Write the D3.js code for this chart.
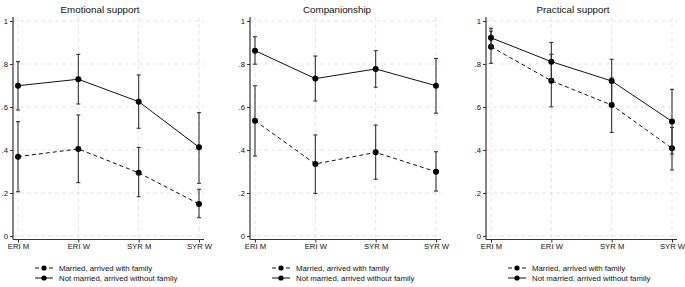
<!DOCTYPE html>
<html>
<head>
<meta charset="utf-8">
<script src="https://cdn.jsdelivr.net/npm/d3@7"></script>
<style>
  body { margin: 0; background: #fff; }
  svg { font-family: "Liberation Sans", Arial, sans-serif; }
</style>
</head>
<body>
<div id="chart"></div>
<script>
const width = 685;
const height = 287;

const categories = ["ERI M", "ERI W", "SYR M", "SYR W"];
const titles = ["Emotional support", "Companionship", "Practical support"];
const seriesNames = ["Married, arrived with family", "Not married, arrived without family"];
const yTicks = [0, 0.2, 0.4, 0.6, 0.8, 1];

// married, arrived with family (dashed)
const marriedMean = [
  [0.369, 0.405, 0.294, 0.149],
  [0.536, 0.335, 0.389, 0.299],
  [0.880, 0.722, 0.609, 0.408]
];
const marriedLow = [
  [0.206, 0.248, 0.183, 0.085],
  [0.372, 0.198, 0.264, 0.209],
  [0.803, 0.601, 0.482, 0.307]
];
const marriedHigh = [
  [0.532, 0.563, 0.412, 0.217],
  [0.699, 0.470, 0.516, 0.392],
  [0.953, 0.845, 0.735, 0.505]
];

// not married, arrived without family (solid)
const singleMean = [
  [0.699, 0.729, 0.625, 0.413],
  [0.862, 0.732, 0.777, 0.699],
  [0.922, 0.811, 0.721, 0.533]
];
const singleLow = [
  [0.586, 0.614, 0.501, 0.245],
  [0.799, 0.628, 0.692, 0.571],
  [0.880, 0.725, 0.620, 0.381]
];
const singleHigh = [
  [0.811, 0.845, 0.749, 0.574],
  [0.927, 0.837, 0.862, 0.826],
  [0.966, 0.900, 0.822, 0.682]
];

const svg = d3.select("#chart")
  .append("svg")
  .attr("width", width)
  .attr("height", height);

const panelX = [0, 237, 473];
const plotTop = 17, plotBottom = 239.5;

const y = d3.scaleLinear().domain([0, 1]).range([236, 21]);

titles.forEach((title, p) => {
  const g = svg.append("g").attr("transform", `translate(${panelX[p]},0)`);
  const axisX = 13, right = 204;

  const x = d3.scalePoint()
    .domain(categories)
    .range([18, 199]);

  // grid
  g.append("g").selectAll("line")
    .data(yTicks)
    .join("line")
    .attr("x1", axisX).attr("x2", right)
    .attr("y1", d => y(d)).attr("y2", d => y(d))
    .attr("stroke", "#dcdcdc")
    .attr("stroke-dasharray", "4,3")
    .attr("stroke-width", 0.8);

  g.append("g").selectAll("line")
    .data(categories)
    .join("line")
    .attr("x1", d => x(d)).attr("x2", d => x(d))
    .attr("y1", plotTop).attr("y2", plotBottom)
    .attr("stroke", "#dcdcdc")
    .attr("stroke-dasharray", "4,3")
    .attr("stroke-width", 0.8);

  // axes
  const yAxis = g.append("g")
    .attr("transform", `translate(${axisX},0)`)
    .call(d3.axisLeft(y).tickValues(yTicks).tickSize(3).tickPadding(2)
      .tickFormat(d => d === 0 ? "0" : d === 1 ? "1" : d3.format(".1f")(d).replace(/^0/, "")));
  yAxis.select(".domain").attr("d", `M0,${plotTop}V${plotBottom}`);

  const xAxis = g.append("g")
    .attr("transform", `translate(0,${plotBottom})`)
    .call(d3.axisBottom(x).tickSize(3).tickPadding(1));
  xAxis.select(".domain").attr("d", `M${axisX},0H${right}`);

  g.selectAll(".domain").attr("stroke", "#333").attr("stroke-width", 1.2);
  g.selectAll(".tick line").attr("stroke", "#333");
  g.selectAll(".tick text").attr("fill", "#111").style("font-size", "7.7px").style("font-family", "Liberation Sans, Arial, sans-serif");

  // title
  g.append("text")
    .attr("x", 100)
    .attr("y", 13)
    .attr("text-anchor", "middle")
    .style("font-size", "9.8px")
    .attr("fill", "#111")
    .text(title);

  const series = [
    { mean: marriedMean[p], low: marriedLow[p], high: marriedHigh[p], dash: "4,3" },
    { mean: singleMean[p], low: singleLow[p], high: singleHigh[p], dash: null }
  ];

  series.forEach(s => {
    const rows = categories.map((c, i) => ({ c, m: s.mean[i], lo: s.low[i], hi: s.high[i] }));
    const eg = g.append("g").attr("stroke", "#333").attr("stroke-width", 1.1);
    eg.selectAll("line.ci")
      .data(rows).join("line")
      .attr("x1", d => x(d.c)).attr("x2", d => x(d.c))
      .attr("y1", d => y(d.lo)).attr("y2", d => y(d.hi));
    eg.selectAll("line.caplo")
      .data(rows).join("line")
      .attr("x1", d => x(d.c) - 2).attr("x2", d => x(d.c) + 2)
      .attr("y1", d => y(d.lo)).attr("y2", d => y(d.lo));
    eg.selectAll("line.caphi")
      .data(rows).join("line")
      .attr("x1", d => x(d.c) - 2).attr("x2", d => x(d.c) + 2)
      .attr("y1", d => y(d.hi)).attr("y2", d => y(d.hi));

    g.append("path")
      .datum(rows)
      .attr("fill", "none")
      .attr("stroke", "#111")
      .attr("stroke-width", 1)
      .attr("stroke-dasharray", s.dash)
      .attr("d", d3.line().x(d => x(d.c)).y(d => y(d.m)));

    g.append("g").selectAll("circle")
      .data(rows).join("circle")
      .attr("cx", d => x(d.c)).attr("cy", d => y(d.m))
      .attr("r", 3)
      .attr("fill", "#000");
  });

  // legend
  const legend = g.append("g").attr("transform", "translate(35,268)");
  seriesNames.forEach((name, i) => {
    const row = legend.append("g").attr("transform", `translate(0,${i * 10})`);
    row.append("line")
      .attr("x1", 0).attr("x2", 18).attr("y1", 0).attr("y2", 0)
      .attr("stroke", "#111")
      .attr("stroke-dasharray", i === 0 ? "4,3" : null);
    row.append("circle").attr("cx", 9).attr("cy", 0).attr("r", 2.6).attr("fill", "#000");
    row.append("text")
      .attr("x", 24).attr("y", 3)
      .style("font-size", "7.8px")
      .attr("fill", "#111")
      .text(name);
  });
});
</script>
</body>
</html>
